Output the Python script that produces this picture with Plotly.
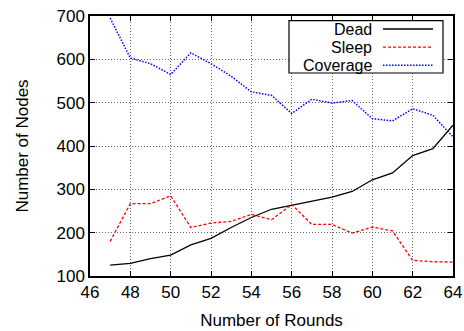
import plotly.graph_objects as go

rounds = list(range(47, 65))
dead = [125, 129, 140, 148, 172, 187, 212, 235, 254, 263, 272, 282, 295, 322, 338, 378, 394, 448]
sleep = [180, 267, 267, 285, 212, 222, 226, 242, 230, 265, 219, 219, 199, 213, 204, 136, 133, 132]
coverage = [695, 603, 590, 565, 615, 590, 561, 525, 517, 475, 508, 499, 505, 463, 458, 486, 471, 421]
series_names = ["Dead", "Sleep", "Coverage"]
x_ticks = list(range(46, 65, 2))
y_ticks = list(range(100, 701, 100))

colors = ["black", "red", "blue"]
dashes = ["solid", "3px,2px", "1.5px,1.5px"]
widths = [1.3, 1.3, 1.5]

fig = go.Figure()
for name, ys, c, d, w in zip(series_names, [dead, sleep, coverage], colors, dashes, widths):
    fig.add_trace(go.Scatter(x=rounds, y=ys, mode="lines", name=name,
                             line=dict(color=c, dash=d, width=w), showlegend=False))

font = dict(family="Liberation Sans, Arial, sans-serif", size=17, color="black")
axis_common = dict(showline=True, linecolor="black", linewidth=1.5, mirror="allticks",
                   ticks="inside", ticklen=5, tickcolor="black", tickwidth=1,
                   showgrid=True, gridcolor="#666", gridwidth=1, griddash="1px,2px",
                   zeroline=False, tickfont=font, automargin=False)
fig.update_xaxes(range=[46, 64], tickvals=x_ticks, title=dict(text="Number of Rounds", font=font, standoff=13),
                 **axis_common)
fig.update_yaxes(range=[100, 700], tickvals=y_ticks, title=dict(text="Number of Nodes", font=font, standoff=24),
                 **axis_common)

# manual legend (text left, sample right, gnuplot style)
L, R, T, B = 289, 443, 20.7, 73
W, H = 464, 331
mt, mb, ml, mr = 16, 55, 90, 11
pw, ph = W - ml - mr, H - mt - mb
def px(x): return (x - ml) / pw
def py(y): return 1 - (y - mt) / ph

legend_font = dict(font, size=16)
fig.add_shape(type="rect", xref="paper", yref="paper", x0=px(L), x1=px(R), y0=py(B), y1=py(T),
              line=dict(color="black", width=1.2), fillcolor="white", layer="above")
for i, (name, c, d, w) in enumerate(zip(series_names, colors, dashes, widths)):
    yc = 29.0 + i * 18.1
    fig.add_annotation(xref="paper", yref="paper", x=px(373), y=py(yc), text=name, showarrow=False,
                       xanchor="right", yanchor="middle", font=legend_font, borderpad=0, height=18)
    fig.add_shape(type="line", xref="paper", yref="paper", x0=px(383), x1=px(433), y0=py(yc), y1=py(yc),
                  line=dict(color=c, dash=d, width=w), layer="above")

fig.update_layout(width=W, height=H, margin=dict(l=ml, r=mr, t=mt, b=mb),
                  paper_bgcolor="white", plot_bgcolor="white", font=font)
fig.write_html("out.html")
